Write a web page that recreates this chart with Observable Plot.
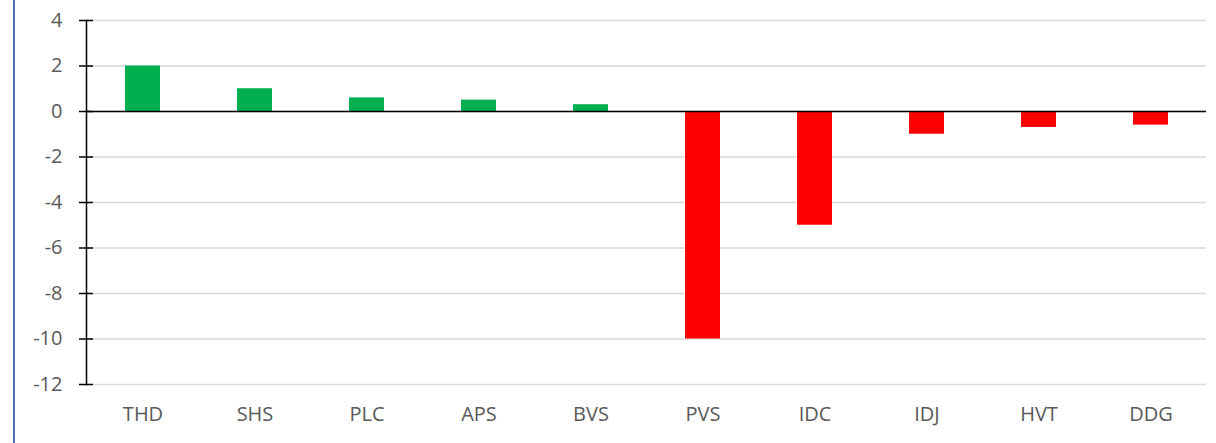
<!DOCTYPE html>
<html>
<head>
<meta charset="utf-8">
<script src="https://cdn.jsdelivr.net/npm/d3@7"></script>
<script src="https://cdn.jsdelivr.net/npm/@observablehq/plot@0.6"></script>
<style>
  html, body { margin: 0; padding: 0; background: #fff; }
  #wrap { position: relative; width: 1216px; height: 443px; overflow: hidden; }
  #border { position: absolute; left: 13px; top: 0; width: 2px; height: 443px; background: #4A72B0; }
  #chart { position: absolute; left: 0; top: 0; }
</style>
</head>
<body>
<div id="wrap"><div id="chart"></div><div id="border"></div></div>
<script>
const categories = ["THD", "SHS", "PLC", "APS", "BVS", "PVS", "IDC", "IDJ", "HVT", "DDG"];
const values = [2, 1, 0.6, 0.5, 0.3, -10, -5, -1, -0.7, -0.6];
const yTicks = [4, 2, 0, -2, -4, -6, -8, -10, -12];

const data = categories.map((c, i) => ({cat: c, v: values[i]}));

const plot = Plot.plot({
  width: 1216,
  height: 443,
  marginLeft: 86,
  marginRight: 10,
  marginTop: 20,
  marginBottom: 59,
  style: {fontFamily: "'Open Sans', 'Liberation Sans', sans-serif", fontSize: "20px", color: "#595959", background: "transparent"},
  x: {domain: categories, paddingInner: 0.69, paddingOuter: 0.345, label: null},
  y: {domain: [-12, 4], ticks: yTicks, label: null},
  marks: [
    Plot.gridY(yTicks, {stroke: "#d9d9d9", strokeOpacity: 1, strokeWidth: 1.5}),
    Plot.barY(data, {x: "cat", y: "v", fill: d => d.v >= 0 ? "#00B050" : "#FF0000"}),
    Plot.ruleY([0], {stroke: "#000", strokeWidth: 1.5}),
    Plot.frame({anchor: "left", stroke: "#000", strokeWidth: 1.5}),
    Plot.axisY(yTicks, {tickSize: 14, dx: 7, tickPadding: 17, stroke: "#000", strokeWidth: 1.5, fill: "#595959", fontSize: 20, tickFormat: d => d < 0 ? "-" + Math.abs(d) : String(d)}),
    Plot.axisX({tickSize: 0, tickPadding: 22, fill: "#595959", fontSize: 20})
  ]
});
document.getElementById("chart").appendChild(plot);
</script>
</body>
</html>
